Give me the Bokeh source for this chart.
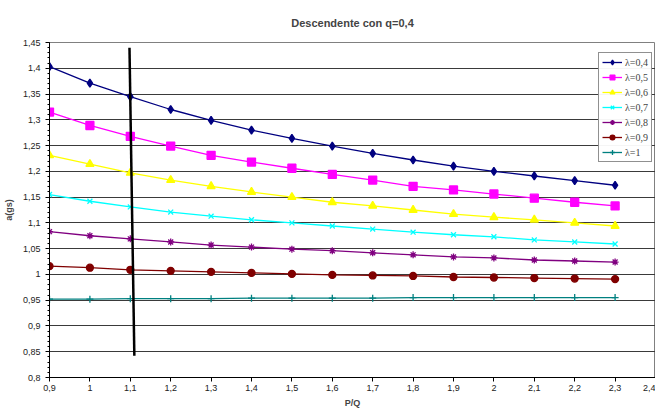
from bokeh.plotting import figure
from bokeh.models import FixedTicker, Legend, LegendItem, Range1d
from bokeh.embed import file_html
from bokeh.resources import INLINE

x = [0.9, 1.0, 1.1, 1.2, 1.3, 1.4, 1.5, 1.6, 1.7, 1.8, 1.9, 2.0, 2.1, 2.2, 2.3]
l04 = [1.403, 1.371, 1.345, 1.320, 1.299, 1.280, 1.264, 1.249, 1.235, 1.222, 1.210, 1.200, 1.191, 1.182, 1.173]
l05 = [1.315, 1.289, 1.268, 1.249, 1.231, 1.218, 1.206, 1.194, 1.183, 1.171, 1.164, 1.156, 1.148, 1.140, 1.133]
l06 = [1.231, 1.214, 1.197, 1.183, 1.171, 1.160, 1.150, 1.140, 1.133, 1.125, 1.117, 1.111, 1.106, 1.100, 1.094]
l07 = [1.155, 1.142, 1.131, 1.121, 1.113, 1.106, 1.100, 1.094, 1.088, 1.082, 1.077, 1.073, 1.067, 1.063, 1.059]
l08 = [1.083, 1.075, 1.069, 1.063, 1.057, 1.053, 1.049, 1.046, 1.042, 1.038, 1.034, 1.032, 1.028, 1.026, 1.024]
l09 = [1.016, 1.013, 1.009, 1.007, 1.005, 1.003, 1.001, 0.999, 0.998, 0.997, 0.995, 0.994, 0.993, 0.992, 0.991]
l10 = [0.952, 0.952, 0.953, 0.953, 0.953, 0.954, 0.954, 0.954, 0.954, 0.955, 0.955, 0.955, 0.955, 0.955, 0.955]
labels = ["λ=0,4", "λ=0,5", "λ=0,6", "λ=0,7", "λ=0,8", "λ=0,9", "λ=1"]
vline_x = [1.098, 1.11]
vline_y = [1.44, 0.842]

x_ticks = [0.9, 1.0, 1.1, 1.2, 1.3, 1.4, 1.5, 1.6, 1.7, 1.8, 1.9, 2.0, 2.1, 2.2, 2.3, 2.4]
x_tick_labels = ["0,9", "1", "1,1", "1,2", "1,3", "1,4", "1,5", "1,6", "1,7", "1,8", "1,9", "2", "2,1", "2,2", "2,3", "2,4"]
y_ticks = [0.8, 0.85, 0.9, 0.95, 1.0, 1.05, 1.1, 1.15, 1.2, 1.25, 1.3, 1.35, 1.4, 1.45]
y_tick_labels = ["0,8", "0,85", "0,9", "0,95", "1", "1,05", "1,1", "1,15", "1,2", "1,25", "1,3", "1,35", "1,4", "1,45"]

p = figure(width=655, height=410, output_backend="svg", toolbar_location=None,
           x_range=Range1d(0.9, 2.4), y_range=Range1d(0.8, 1.45),
           min_border_left=39, min_border_right=0, min_border_top=42, min_border_bottom=20)
p.title.text = "Descendente con q=0,4"
p.title.align = "center"
p.title.vertical_align = "top"
p.title.text_font = "Liberation Sans"
p.title.text_font_size = "11px"
p.title.text_font_style = "bold"
p.title.standoff = 23
p.outline_line_color = "#808080"

p.xaxis.ticker = FixedTicker(ticks=x_ticks)
p.xaxis.major_label_overrides = {t: l for t, l in zip(x_ticks, x_tick_labels)}
p.yaxis.ticker = FixedTicker(ticks=y_ticks, minor_ticks=[round(0.8 + 0.01 * i, 2) for i in range(66)])
p.yaxis.major_label_overrides = {t: l for t, l in zip(y_ticks, y_tick_labels)}
for ax in (p.xaxis[0], p.yaxis[0]):
    ax.axis_line_color = "black"
    ax.major_tick_line_color = "black"
    ax.minor_tick_line_color = "black"
    ax.major_label_text_font = "Liberation Sans"
    ax.major_label_text_font_size = "9px"
    ax.major_label_text_color = "#222222"
    ax.axis_label_text_font = "Liberation Sans"
    ax.axis_label_text_font_size = "9px"
    ax.axis_label_text_font_style = "bold"
    ax.major_tick_in = 0
    ax.major_tick_out = 4
    ax.minor_tick_in = 0
    ax.minor_tick_out = 2
p.xaxis.minor_tick_line_color = None
p.xaxis.axis_label = "P/Q"
p.yaxis.axis_label = "a(gs)"
p.yaxis.axis_label_standoff = 6
p.xaxis.axis_label_standoff = 4
p.xaxis.major_label_standoff = 3
p.xgrid.grid_line_color = None
p.ygrid.ticker = FixedTicker(ticks=y_ticks)
p.ygrid.grid_line_color = "#3a3a3a"
p.ygrid.grid_line_width = 1

series = [l04, l05, l06, l07, l08, l09, l10]
colors = ["#000080", "#FF00FF", "#FFFF00", "#00FFFF", "#800080", "#800000", "#008080"]
markers = ["diamond", "square", "triangle", "x", "asterisk", "circle", "cross"]
sizes = [8, 8, 8, 7, 7, 7, 7]
items = []
for ys, c, m, s, lab in zip(series, colors, markers, sizes, labels):
    r1 = p.line(x, ys, line_color=c, line_width=1.3)
    r2 = p.scatter(x, ys, marker=m, size=s, fill_color=c, line_color=c, line_width=1.3)
    items.append(LegendItem(label=lab, renderers=[r1, r2]))

p.line(vline_x, vline_y, line_color="black", line_width=2.5)

legend = Legend(items=items, location=(549, 215))
legend.margin = 0
legend.padding = 3
legend.spacing = 3
legend.glyph_width = 20
legend.glyph_height = 12
legend.label_height = 12
legend.label_standoff = 3
legend.label_text_font = "Liberation Serif"
legend.label_text_font_size = "10px"
legend.border_line_color = "#222222"
legend.border_line_width = 1
legend.background_fill_color = "white"
p.add_layout(legend, "center")

open("out.html", "w").write(file_html(p, INLINE))
